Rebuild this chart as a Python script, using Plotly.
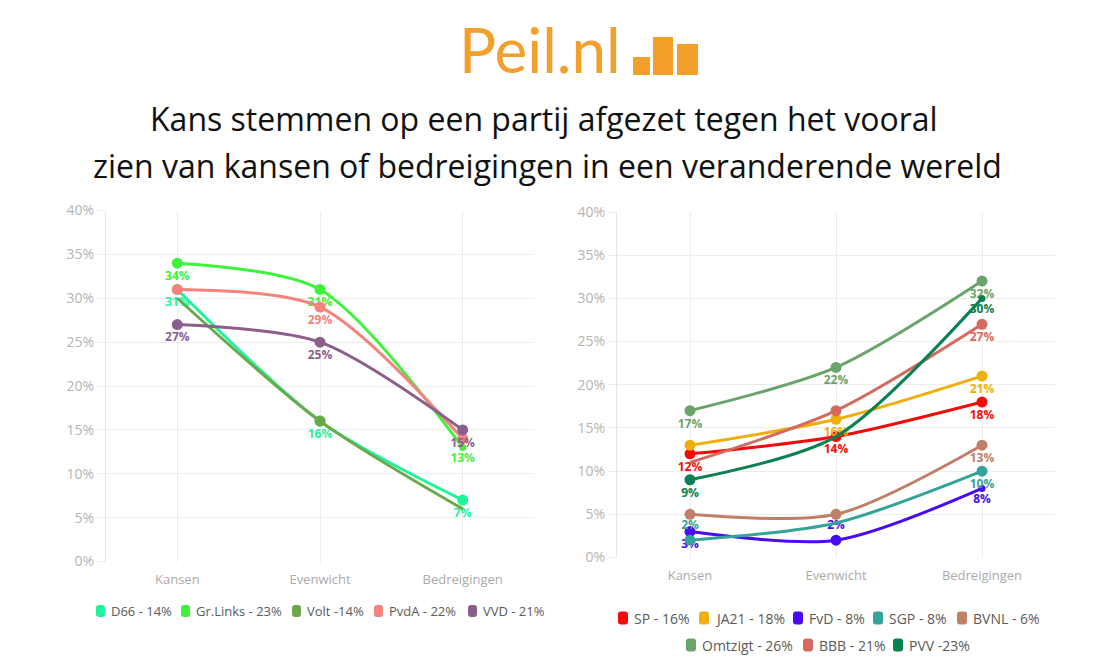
import plotly.graph_objects as go

W, H = 1106, 668

categories = ["Kansen", "Evenwicht", "Bedreigingen"]

# ---- left chart data ----
left_names = ["D66 - 14%", "Gr.Links - 23%", "Volt -14%", "PvdA - 22%", "VVD - 21%"]
d66 = [31, 16, 7]
grlinks = [34, 31, 13]
volt = [30, 16, 6]
pvda = [31, 29, 14]
vvd = [27, 25, 15]
left_values = [d66, grlinks, volt, pvda, vvd]
left_colors = ["#1ef49a", "#3ff23a", "#6aa84a", "#f5827c", "#8a5f8c"]
left_labels_shown = [[1, 1, 1], [1, 1, 1], [0, 0, 0], [0, 1, 0], [1, 1, 1]]
# 2 = full marker, 1 = small marker, 0 = none
left_markers_shown = [[2, 2, 2], [2, 2, 1], [0, 2, 0], [2, 2, 2], [2, 2, 2]]

# ---- right chart data ----
right_names = ["SP - 16%", "JA21 - 18%", "FvD - 8%", "SGP - 8%", "BVNL - 6%",
               "Omtzigt - 26%", "BBB - 21%", "PVV -23%"]
sp = [12, 14, 18]
ja21 = [13, 16, 21]
fvd = [3, 2, 8]
sgp = [2, 4, 10]
bvnl = [5, 5, 13]
omtzigt = [17, 22, 32]
bbb = [11, 17, 27]
pvv = [9, 14, 30]
right_values = [sp, ja21, fvd, sgp, bvnl, omtzigt, bbb, pvv]
right_colors = ["#f50a0a", "#f0ae0c", "#4a0af5", "#34a39a", "#c08068",
                "#6aa46a", "#d46a5f", "#0b8050"]
right_labels_shown = [[1, 1, 1], [0, 1, 1], [1, 1, 1], [1, 0, 1], [0, 0, 1],
                      [1, 1, 1], [0, 0, 1], [1, 0, 1]]
right_markers_shown = [[2, 2, 2], [2, 2, 2], [2, 2, 1], [2, 0, 2], [2, 2, 2],
                       [2, 2, 2], [0, 2, 2], [2, 0, 1]]
right_textpos = {2: ["bottom center", "top center", "bottom center"],
                 3: ["top center", "bottom center", "bottom center"]}

title_lines = ["Kans stemmen op een partij afgezet tegen het vooral",
               "zien van kansen of bedreigingen in een veranderende wereld"]
logo_text = "Peil.nl"

MARKER_SIZES = {0: 0, 1: 7, 2: 11}


def X(px):
    return px / W


def Y(py):
    return 1 - py / H


fig = go.Figure()


def add_series(names, values, colors, shown, mshown, xa, ya, textpos=None):
    for i, (n, v, c, s, m) in enumerate(zip(names, values, colors, shown, mshown)):
        txt = [f"{val}%" if flag else "" for val, flag in zip(v, s)]
        tp = (textpos or {}).get(i, "bottom center")
        fig.add_trace(go.Scatter(
            x=categories, y=v, name=n, mode="lines+markers+text",
            line=dict(color=c, width=3, shape="spline", smoothing=0.8),
            marker=dict(color=c, size=[MARKER_SIZES[f] for f in m], opacity=1,
                        line=dict(width=0)),
            text=txt, textposition=tp,
            textfont=dict(family="Open Sans", size=12, color=c, weight="bold"),
            xaxis=xa, yaxis=ya, showlegend=False, cliponaxis=False,
        ))


add_series(left_names, left_values, left_colors, left_labels_shown, left_markers_shown,
           "x", "y")
add_series(right_names, right_values, right_colors, right_labels_shown, right_markers_shown,
           "x2", "y2", right_textpos)

axis_common_x = dict(type="category", range=[-0.5, 2.5], showgrid=True,
                     gridcolor="#ededed", gridwidth=1, zeroline=False, showline=False,
                     ticklabelstandoff=8, automargin=False,
                     tickfont=dict(family="Open Sans", size=13, color="#ababab"),
                     fixedrange=True)
axis_common_y = dict(range=[0, 40], dtick=5, ticksuffix="%", showgrid=True,
                     gridcolor="#ededed", gridwidth=1, zeroline=False, showline=True,
                     linecolor="#e6e6e6", ticks="outside", ticklen=8,
                     tickcolor="#ededed", automargin=False, fixedrange=True,
                     tickfont=dict(family="Open Sans", size=14, color="#b4b4b4"))

fig.update_layout(
    width=W, height=H,
    margin=dict(l=0, r=0, t=0, b=0, pad=0, autoexpand=False),
    paper_bgcolor="white", plot_bgcolor="white",
    showlegend=False,
    xaxis=dict(domain=[X(106), X(534)], anchor="y", **axis_common_x),
    yaxis=dict(domain=[Y(561.5), Y(210.5)], anchor="x", **axis_common_y),
    xaxis2=dict(domain=[X(617), X(1055)], anchor="y2", **axis_common_x),
    yaxis2=dict(domain=[Y(557.5), Y(212)], anchor="x2", **axis_common_y),
)

annotations = []
shapes = []

# Title
for line, cx, cy in zip(title_lines, [544, 547], [118, 165]):
    annotations.append(dict(text=line, x=X(cx), y=Y(cy), xref="paper", yref="paper",
                            xanchor="center", yanchor="middle", showarrow=False,
                            font=dict(family="Open Sans", size=32, color="#111111")))

# Logo
logo_color = "#f2a02a"
annotations.append(dict(text=logo_text, x=X(540), y=Y(49), xref="paper", yref="paper",
                        xanchor="center", yanchor="middle", showarrow=False,
                        font=dict(family="Lato", size=62, color=logo_color)))
for (x0, y0, x1, y1) in [(633, 57, 650, 75), (653, 37, 673, 75), (677, 44, 698, 75)]:
    shapes.append(dict(type="rect", xref="paper", yref="paper",
                       x0=X(x0), x1=X(x1), y0=Y(y1), y1=Y(y0),
                       fillcolor=logo_color, line=dict(width=0)))


def rrect(x0, y0, x1, y1, r, color):
    p = (f"M {X(x0 + r)},{Y(y0)} L {X(x1 - r)},{Y(y0)} Q {X(x1)},{Y(y0)} {X(x1)},{Y(y0 + r)} "
         f"L {X(x1)},{Y(y1 - r)} Q {X(x1)},{Y(y1)} {X(x1 - r)},{Y(y1)} "
         f"L {X(x0 + r)},{Y(y1)} Q {X(x0)},{Y(y1)} {X(x0)},{Y(y1 - r)} "
         f"L {X(x0)},{Y(y0 + r)} Q {X(x0)},{Y(y0)} {X(x0 + r)},{Y(y0)} Z")
    return dict(type="path", path=p, xref="paper", yref="paper",
                fillcolor=color, line=dict(width=0))


def legend_row(names, colors, sym_x, cy, fsize, sw=10, sh=13):
    for n, c, sx in zip(names, colors, sym_x):
        shapes.append(rrect(sx, cy - sh / 2, sx + sw, cy + sh / 2, 3, c))
        annotations.append(dict(text=n, x=X(sx + sw + 4), y=Y(cy), xref="paper", yref="paper",
                                xanchor="left", yanchor="middle", showarrow=False,
                                font=dict(family="Open Sans", size=fsize, color="#5a5a5a")))


legend_row(left_names, left_colors, [96, 181, 292, 374, 468], 611, 13, sw=9, sh=12)
legend_row(right_names[:5], right_colors[:5], [618, 699, 793, 873, 957], 618, 14)
legend_row(right_names[5:], right_colors[5:], [686, 803, 893], 645, 14)

fig.update_layout(annotations=annotations, shapes=shapes)

fig.write_html("out.html", config={"displayModeBar": False},
               post_script="document.documentElement.style.margin='0';"
                           "document.body.style.margin='0';"
                           "document.body.style.padding='0';"
                           "document.body.style.overflow='hidden';")
